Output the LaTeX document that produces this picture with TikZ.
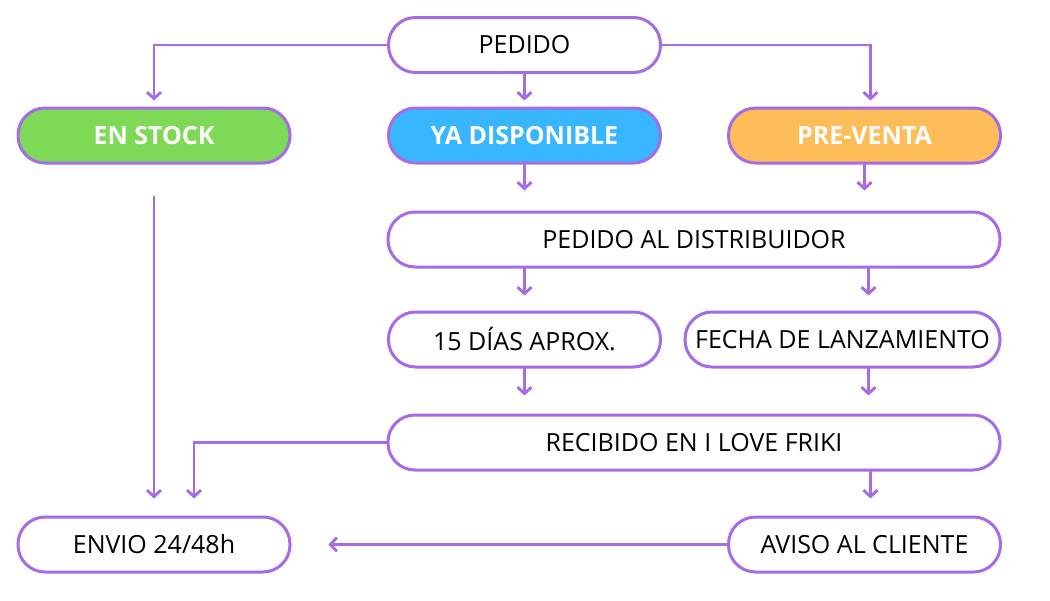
\documentclass[tikz,border=0pt]{standalone}
\usepackage{fontspec}
\setmainfont{Open Sans}
\usetikzlibrary{arrows.meta, positioning, calc}
\definecolor{lila}{HTML}{A66CE6}
\definecolor{verde}{HTML}{7ED957}
\definecolor{azul}{HTML}{38B6FF}
\definecolor{naranja}{HTML}{FFBD59}

\begin{document}
\begin{tikzpicture}[
        x=0.5pt, y=-0.5pt,
        font=\fontsize{12.5}{15}\selectfont,
        box/.style={draw=lila, line width=1.5pt, fill=white, rounded corners=13.5pt,
            minimum width=136pt, minimum height=27.5pt, align=center, inner sep=0pt},
        cbox/.style={box, font=\fontsize{12.5}{15}\selectfont\bfseries, text=white},
        arr/.style={-{Straight Barb[length=3.2pt, width=7pt]}, line width=1.45pt, draw=lila, line cap=round}
    ]
        \useasboundingbox (0,0) rectangle (1050,600);

        \node[box]                  (pedido)   at (524.5,45)   {PEDIDO};
        \node[cbox, fill=verde]     (enstock)  at (154,135.5)  {EN STOCK};
        \node[cbox, fill=azul]      (yadisp)   at (524.5,135.5){YA DISPONIBLE};
        \node[cbox, fill=naranja]   (preventa) at (864.5,135.5){PRE-VENTA};
        \node[box, minimum width=306pt] (distrib) at (694,239.5) {PEDIDO AL DISTRIBUIDOR};
        \node[box]                  (dias)     at (524.5,339.5){15 DÍAS APROX.};
        \node[box, minimum width=157.5pt] (fecha) at (842.5,339.5) {FECHA DE LANZAMIENTO};
        \node[box, minimum width=306pt] (recib) at (694,442.5) {RECIBIDO EN I LOVE FRIKI};
        \node[box]                  (envio)    at (154,544.5)  {ENVIO 24/48h};
        \node[box]                  (aviso)    at (864.5,544.5){AVISO AL CLIENTE};

        % desde el pedido
        \draw[arr, shorten >=3pt] (pedido.west) -| (enstock.north);
        \draw[arr, shorten >=3pt] (pedido.east) -| ([xshift=3pt]preventa.north);
        \draw[arr, shorten >=3pt] (pedido) -- (yadisp);

        % hacia el distribuidor
        \draw[arr, shorten >=10pt] (yadisp.south) -- (yadisp.south |- distrib.north);
        \draw[arr, shorten >=10pt] (preventa.south) -- (preventa.south |- distrib.north);
        \draw[arr, shorten >=7.5pt] (dias.north |- distrib.south) -- (dias.north);
        \draw[arr, shorten >=7.5pt] ([xshift=2pt]preventa.south |- distrib.south) -- ([xshift=2pt]preventa.south |- fecha.north);

        % recepcion
        \draw[arr, shorten >=9pt] (dias.south) -- (dias.south |- recib.north);
        \draw[arr, shorten >=9pt] ([xshift=2pt]preventa.south |- fecha.south) -- ([xshift=2pt]preventa.south |- recib.north);

        % envio y aviso
        \draw[arr, shorten <=16pt, shorten >=8.5pt] (enstock.south) -- (envio.north);
        \draw[arr, shorten >=8.5pt] (recib.west) -| ([xshift=20pt]envio.north);
        \draw[arr, shorten >=8.5pt] ([xshift=3pt]aviso.north |- recib.south) -- ([xshift=3pt]aviso.north);
        \draw[arr, shorten >=18.5pt] (aviso.west) -- (envio.east);
    \end{tikzpicture}
\end{document}
